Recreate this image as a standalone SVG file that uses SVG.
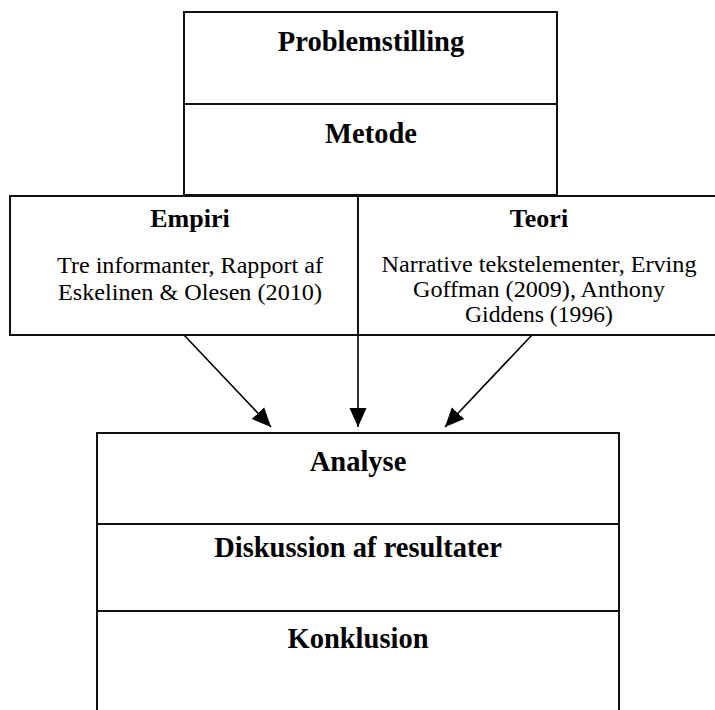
<svg xmlns="http://www.w3.org/2000/svg" width="715" height="710" viewBox="0 0 715 710">
<style>
.box{fill:#fff;stroke:#111;stroke-width:2}
.div{stroke:#111;stroke-width:2;fill:none}
.h{font-family:"Liberation Serif","Times New Roman",serif;font-weight:bold;font-size:28.5px;fill:#000;text-anchor:middle}
.h2{font-family:"Liberation Serif","Times New Roman",serif;font-weight:bold;font-size:26px;fill:#000;text-anchor:middle}
.t{font-family:"Liberation Serif","Times New Roman",serif;font-size:24px;fill:#000;text-anchor:middle}
.c{stroke:#000;stroke-width:1.6;fill:none;marker-end:url(#ah)}
</style>
<defs>
<marker id="ah" markerUnits="userSpaceOnUse" markerWidth="20" markerHeight="20" viewBox="0 0 20 20" refX="19" refY="10" orient="auto">
<path d="M0,1.5 L19,10 L0,18.5 Z" fill="#000"/>
</marker>
</defs>
<rect width="715" height="710" fill="#fff"/>
<g id="top">
<rect class="box" x="184" y="12" width="373" height="183"/>
<line class="div" x1="184" y1="104" x2="557" y2="104"/>
<text class="h" x="371" y="51">Problemstilling</text>
<text class="h" x="371" y="143">Metode</text>
</g>
<g id="middle">
<rect class="box" x="10" y="196" width="720" height="139"/>
<line class="div" x1="358" y1="196" x2="358" y2="335"/>
<g id="empiri">
<text class="h2" x="190" y="227">Empiri</text>
<text class="t" x="190" y="273" textLength="266" lengthAdjust="spacingAndGlyphs">Tre informanter, Rapport af</text>
<text class="t" x="190" y="300" textLength="264" lengthAdjust="spacingAndGlyphs">Eskelinen &amp; Olesen (2010)</text>
</g>
<g id="teori">
<text class="h2" x="539" y="227">Teori</text>
<text class="t" x="539" y="272" textLength="315" lengthAdjust="spacingAndGlyphs">Narrative tekstelementer, Erving</text>
<text class="t" x="539" y="297" textLength="252" lengthAdjust="spacingAndGlyphs">Goffman (2009), Anthony</text>
<text class="t" x="539" y="322" textLength="148" lengthAdjust="spacingAndGlyphs">Giddens (1996)</text>
</g>
</g>
<g id="bottom">
<rect class="box" x="97" y="433" width="522" height="300"/>
<line class="div" x1="97" y1="524" x2="619" y2="524"/>
<line class="div" x1="97" y1="611" x2="619" y2="611"/>
<text class="h" x="358" y="471">Analyse</text>
<text class="h" x="358" y="557">Diskussion af resultater</text>
<text class="h" x="358" y="648">Konklusion</text>
</g>
<g id="connectors">
<line class="c" x1="184" y1="335" x2="271" y2="427"/>
<line class="c" x1="358" y1="335" x2="358" y2="427"/>
<line class="c" x1="532" y1="335" x2="445" y2="427"/>
</g>
</svg>
